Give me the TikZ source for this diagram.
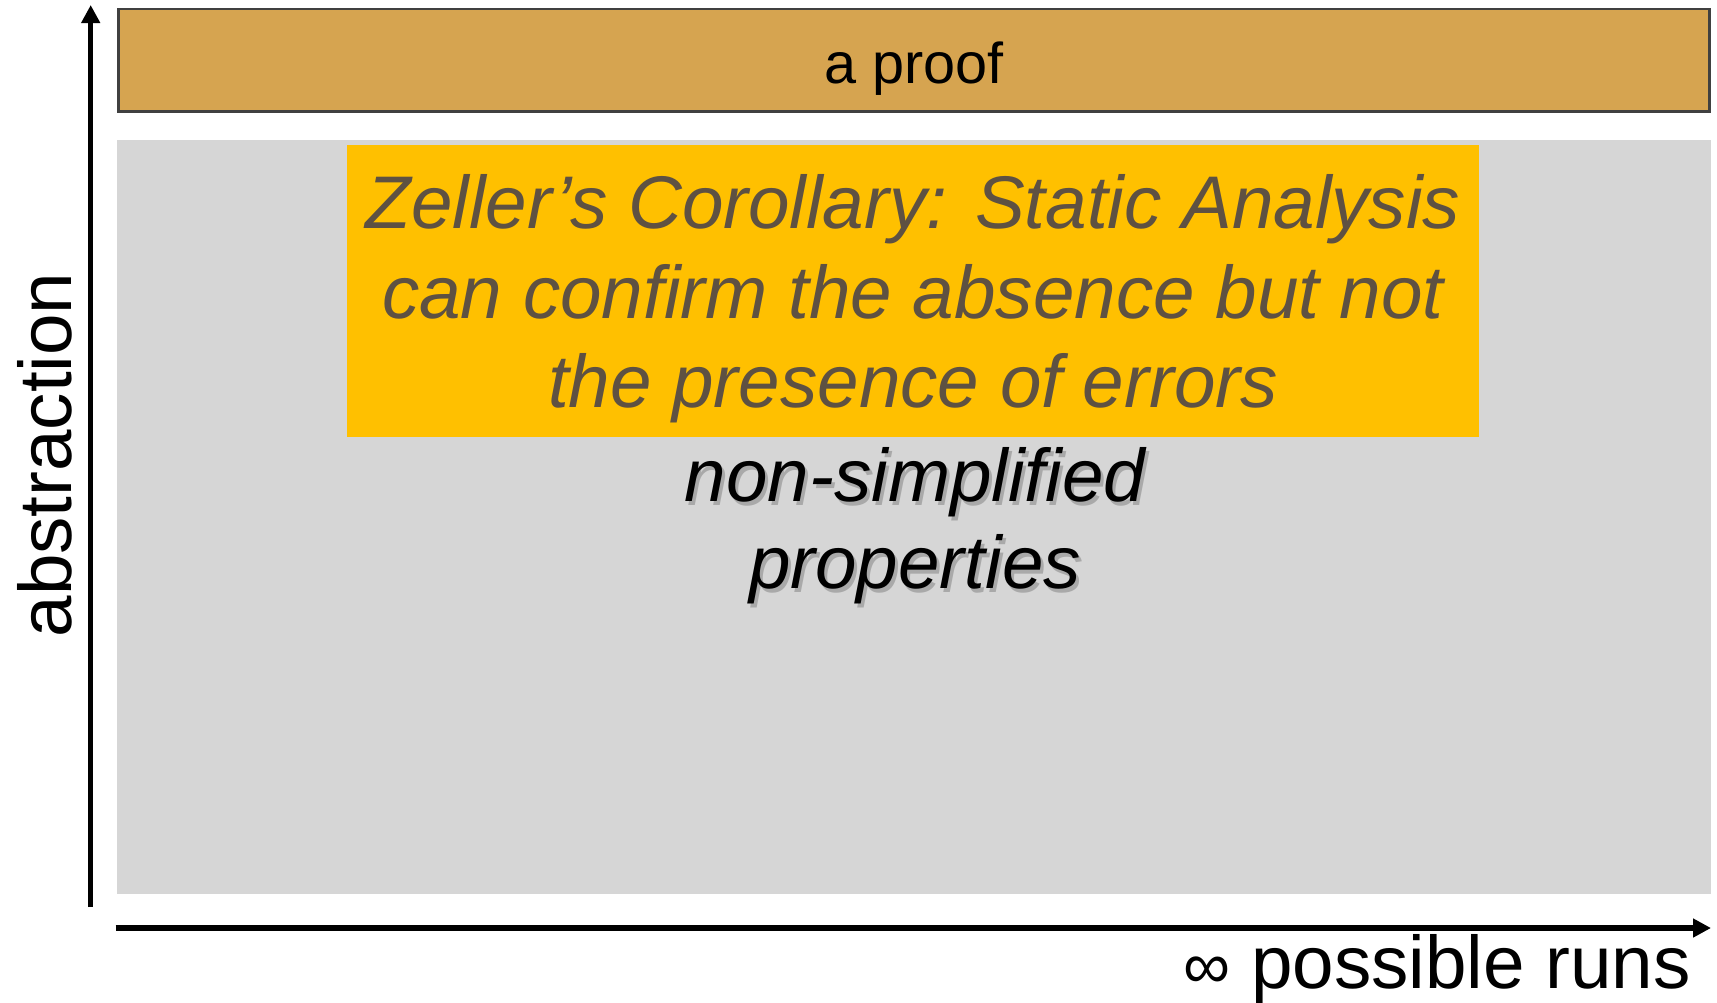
\documentclass[tikz,border=0pt]{standalone}
\usepackage{fontspec}
\setmainfont{Liberation Sans}
\usetikzlibrary{arrows.meta}
\definecolor{proofcol}{RGB}{214,164,80}
\definecolor{proofedge}{RGB}{64,64,64}
\definecolor{graycol}{RGB}{214,214,214}
\definecolor{orangecol}{RGB}{255,192,0}
\definecolor{browntext}{RGB}{94,81,66}
\tikzset{
  axis/.style={line width=2.6pt, -{Triangle[length=9pt,width=9pt]}},
  bigtext/.style={font=\fontsize{37.3}{44.75}\selectfont, inner sep=0pt},
  bigital/.style={font=\fontsize{37.3}{44.75}\selectfont\itshape, inner sep=0pt},
  prooftext/.style={font=\fontsize{28.8}{34}\selectfont, inner sep=0pt},
}
\begin{document}
\begin{tikzpicture}[x=0.5pt,y=-0.5pt]
\useasboundingbox (0,0) rectangle (1717,1002);
% proof box
\node[draw=proofedge, line width=1.3pt, fill=proofcol, minimum width=1594*0.5pt-1.3pt, minimum height=105*0.5pt-1.3pt, inner sep=0pt, anchor=north west] (proof) at (117,7.5) {};
\node[prooftext, anchor=base] (prooflbl) at (914,83) {a proof};
% gray region
\node[fill=graycol, minimum width=1594*0.5pt, minimum height=754*0.5pt, inner sep=0pt, anchor=north west] (region) at (117,140) {};
% orange box
\node[fill=orangecol, minimum width=1132*0.5pt, minimum height=292*0.5pt, inner sep=0pt, anchor=north west] (zeller) at (346.5,145) {};
\node[bigital, text=browntext, anchor=base] (zl1) at (913,228) {Zeller’s Corollary: Static Analysis};
\node[bigital, text=browntext, anchor=base] (zl2) at (913,318) {can confirm the absence but not};
\node[bigital, text=browntext, anchor=base] (zl3) at (913,407) {the presence of errors};
% non-simplified properties with shadow
\node[bigital, text=black!45, opacity=0.6, anchor=base] (ns1s) at (918,505) {non-simplified};
\node[bigital, text=black!45, opacity=0.6, anchor=base] (ns2s) at (918,592) {properties};
\node[bigital, anchor=base] (ns1) at (915,501) {non-simplified};
\node[bigital, anchor=base] (ns2) at (915,588) {properties};
% axes
\coordinate (ybot) at (90.7,907);
\coordinate (ytop) at (90.7,5);
\coordinate (xleft) at (115.5,928);
\coordinate (xright) at (1711,928);
\draw[axis] (ybot) -- (ytop);
\draw[axis] (xleft) -- (xright);
\node[bigtext, rotate=90, anchor=base] (ylabel) at (71,455) {abstraction};
\node[bigtext, anchor=base east] (xlabel) at (1691,988) {{\fontsize{33}{40}\selectfont ∞} possible runs};
\end{tikzpicture}
\end{document}
